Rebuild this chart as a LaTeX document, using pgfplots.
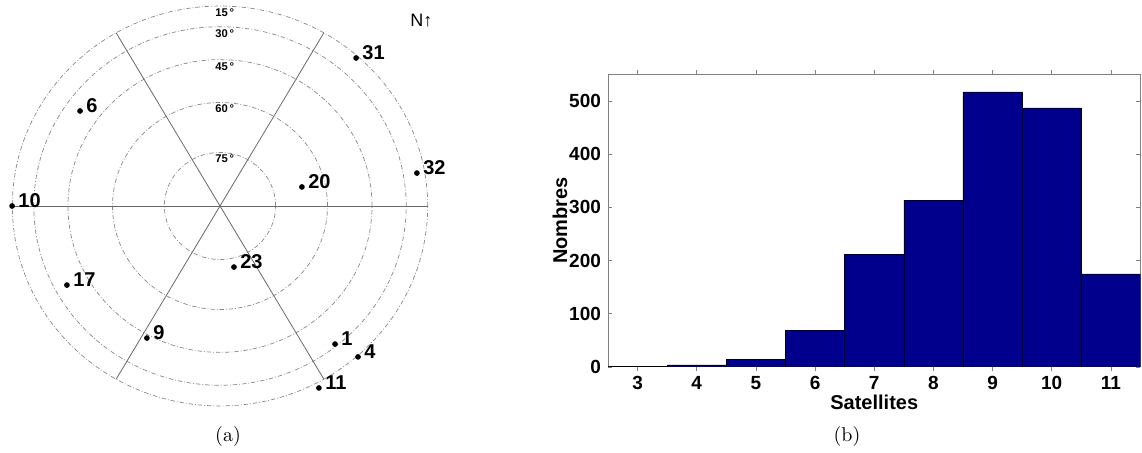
\documentclass[border=0pt]{standalone}
\usepackage{fontspec}
\usepackage{pgfplots}
\pgfplotsset{compat=1.18}
\newfontfamily\hv{Liberation Sans}
\definecolor{barblue}{RGB}{0,0,140}
\definecolor{ringgray}{RGB}{135,135,135}
\definecolor{spokegray}{RGB}{105,105,105}
\definecolor{axgray}{RGB}{128,128,128}
\tikzset{ring/.style={ringgray, line width=0.35pt, dash pattern=on 2.2pt off 1pt on 0.4pt off 1pt}}
\begin{document}
\begin{tikzpicture}
\useasboundingbox (0,0) rectangle (571pt,-226.5pt);
% ---------------- (a) sky plot ----------------
\begin{axis}[
  at={(110pt,-103pt)}, anchor=center,
  scale only axis, width=215pt, height=207pt,
  xmin=-1, xmax=1, ymin=-1, ymax=1,
  hide axis, clip=false,
]
\draw[ring] (axis cs:0,0) ellipse [x radius=0.9659, y radius=0.9659];
\draw[ring] (axis cs:0,0) ellipse [x radius=0.8660, y radius=0.8660];
\draw[ring] (axis cs:0,0) ellipse [x radius=0.7071, y radius=0.7071];
\draw[ring] (axis cs:0,0) ellipse [x radius=0.5, y radius=0.5];
\draw[ring] (axis cs:0,0) ellipse [x radius=0.2588, y radius=0.2588];
\addplot[spokegray, line width=0.4pt] coordinates {(-0.967,0) (0.967,0)};
\addplot[spokegray, line width=0.4pt] coordinates {(-0.483,-0.8365) (0.483,0.8365)};
\addplot[spokegray, line width=0.4pt] coordinates {(0.483,-0.8365) (-0.483,0.8365)};
\node[font=\hv\bfseries\fontsize{5.6}{6}\selectfont, inner sep=0pt] at (axis cs:0.022,0.934) {15\,°};
\node[font=\hv\bfseries\fontsize{5.6}{6}\selectfont, inner sep=0pt] at (axis cs:0.022,0.834) {30\,°};
\node[font=\hv\bfseries\fontsize{5.6}{6}\selectfont, inner sep=0pt] at (axis cs:0.022,0.675) {45\,°};
\node[font=\hv\bfseries\fontsize{5.6}{6}\selectfont, inner sep=0pt] at (axis cs:0.022,0.468) {60\,°};
\node[font=\hv\bfseries\fontsize{5.6}{6}\selectfont, inner sep=0pt] at (axis cs:0.022,0.227) {75\,°};
\addplot[only marks, mark=*, mark size=1.2pt, black,
  point meta=explicit symbolic,
  nodes near coords,
  every node near coord/.append style={anchor=base west, inner sep=0pt,
    xshift=3pt, yshift=-0.8pt, font=\hv\bfseries\fontsize{10}{12}\selectfont, black},
] table[meta=label] {
x y label
0.633 0.715 31
-0.651 0.459 6
0.916 0.159 32
0.381 0.092 20
-0.967 0.000 10
0.065 -0.295 23
-0.712 -0.382 17
-0.340 -0.638 9
0.535 -0.667 1
0.642 -0.729 4
0.460 -0.879 11
};
\node[anchor=base west, inner sep=0pt, font=\hv\fontsize{9}{10}\selectfont] at (axis cs:0.884,0.865) {N↑};
\end{axis}
\node[font=\fontsize{10}{12}\selectfont] at (114pt,-218.5pt) {(a)};
% ---------------- (b) histogram ----------------
\begin{axis}[
  at={(304pt,-183.5pt)}, anchor=south west,
  scale only axis, width=266.25pt, height=146.35pt,
  xmin=2.5, xmax=11.5, ymin=0, ymax=550,
  xtick={3,...,11}, ytick={0,100,...,500},
  tick align=inside, major tick length=2.2pt,
  axis line style={axgray, line width=0.5pt},
  tick style={axgray, line width=0.4pt},
  /pgf/number format/assume math mode=true,
  ticklabel style={font=\hv\bfseries\fontsize{9.5}{11}\selectfont},
  xticklabel style={yshift=1.2pt},
  xlabel={Satellites}, ylabel={Nombres},
  label style={font=\hv\bfseries\fontsize{10}{12}\selectfont},
  xlabel style={at={(axis description cs:0.5,-0.12)}, anchor=center},
  ylabel style={at={(axis description cs:-0.09,0.5)}, anchor=center},
  ybar, bar width=1, bar shift=0pt,
]
\addplot[fill=barblue, draw=black, line width=0.3pt] coordinates {
(3,1) (4,4) (5,15) (6,69) (7,212) (8,313) (9,517) (10,487) (11,175)
};
\end{axis}
\node[font=\fontsize{10}{12}\selectfont] at (423.5pt,-218.5pt) {(b)};
\end{tikzpicture}
\end{document}
